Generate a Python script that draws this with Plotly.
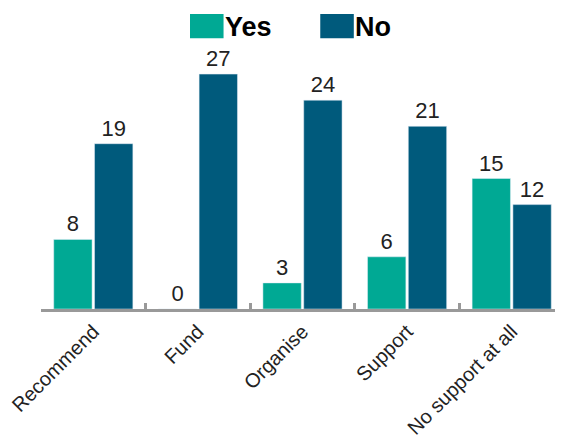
import plotly.graph_objects as go

categories = ["Recommend", "Fund", "Organise", "Support", "No support at all"]
yes_values = [8, 0, 3, 6, 15]
no_values = [19, 27, 24, 21, 12]
series_names = ["Yes", "No"]
colors = ["#00A994", "#005A7C"]

OFF = 8  # page body margin
W, H = 563 - OFF, 439 - OFF
ML, MR, MT, MB = 34 - OFF, 0, 48 - OFF, 130 - OFF
pw, ph = W - ML - MR, H - MT - MB

def px2paper(x, y):
    # x, y in window pixels
    x -= OFF
    y -= OFF
    return (x - ML) / pw, (H - MB - y) / ph

fig = go.Figure()
for name, vals, col in zip(series_names, [yes_values, no_values], colors):
    fig.add_trace(go.Bar(
        x=categories, y=vals, name=name, marker_color=col,
        text=[str(v) for v in vals], textposition="outside",
        textfont=dict(size=22, color="#222222", family="Liberation Sans, Arial"),
        cliponaxis=False, showlegend=False,
    ))

shapes = []
annotations = []
for (x0, name, col) in [(185, "Yes", colors[0]), (317, "No", colors[1])]:
    a0, b0 = px2paper(x0, 38)
    a1, b1 = px2paper(x0 + 34, 13)
    shapes.append(dict(type="rect", xref="paper", yref="paper", x0=a0, x1=a1, y0=b0, y1=b1,
                       fillcolor=col, line=dict(width=0)))
    tx, ty = px2paper(x0 + 33, 26)
    annotations.append(dict(xref="paper", yref="paper", x=tx, y=ty, text="<b>%s</b>" % name,
                            showarrow=False, xanchor="left", yanchor="middle",
                            font=dict(size=27, color="#000000", family="Liberation Sans, Arial")))

fig.update_layout(
    width=W, height=H,
    margin=dict(l=ML, r=MR, t=MT, b=MB),
    plot_bgcolor="white", paper_bgcolor="white",
    barmode="group", bargap=0.22, bargroupgap=0.06,
    shapes=shapes, annotations=annotations,
    xaxis=dict(
        range=[-0.5, -0.5 + pw / 106.0], showline=True, linecolor="#999999", linewidth=3,
        ticks="inside", tickson="boundaries", ticklen=6, tickwidth=3, tickcolor="#999999",
        tickangle=-45, tickfont=dict(size=20, color="#222222", family="Liberation Sans, Arial"),
        showgrid=False,
    ),
    yaxis=dict(range=[0, 30], visible=False, showgrid=False),
)

fig.write_html("out.html")
